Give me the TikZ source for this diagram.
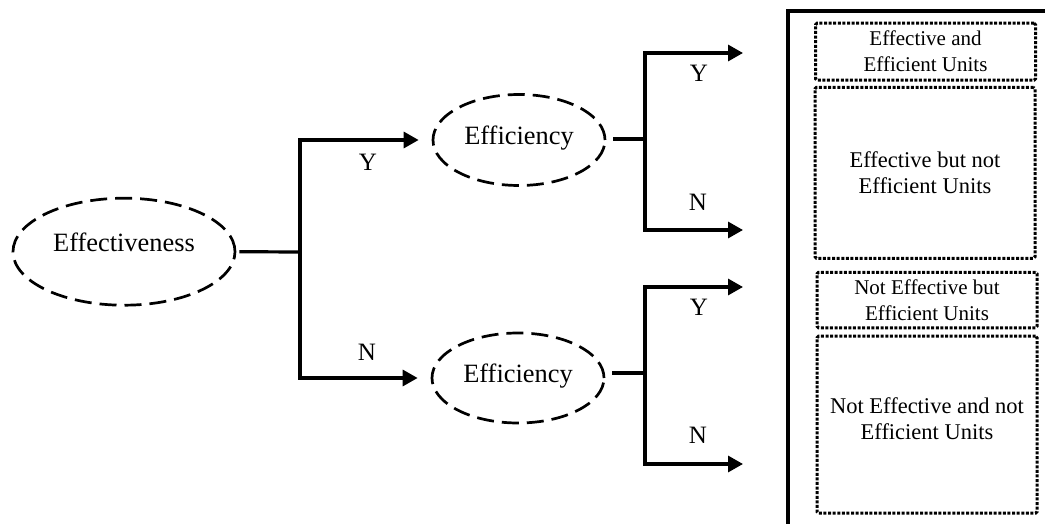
\documentclass[tikz,border=0pt]{standalone}
\usepackage{fontspec}
\setmainfont{Liberation Serif}
\usetikzlibrary{shapes.geometric, arrows.meta}

\begin{document}
\begin{tikzpicture}[x=1pt, y=-1pt,
    oval/.style={draw, ellipse, line width=2.7pt, dash pattern=on 17pt off 8pt, font=\fontsize{26.4}{30}\selectfont},
    branch/.style={line width=3.2pt},
    branchto/.style={line width=3.2pt, -{Triangle[length=15pt, width=16pt]}},
    yn/.style={font=\fontsize{25}{30}\selectfont},
    unitbox/.style={draw, rectangle, rounded corners=1.5pt, line width=3pt, dash pattern=on 3pt off 1.6pt, minimum width=220pt, align=center}]

    \useasboundingbox (0,0) rectangle (1045,524);
    \clip (0,0) rectangle (1045,524);

    % Effectiveness
    \node[oval, minimum width=222pt, minimum height=107pt, text height=18pt, text depth=18pt] (effect) at (124,251.7) {Effectiveness};
    \coordinate (fork) at (300,252);
    \draw[branch, shorten <=3pt] (effect.east) -- (fork);

    % Efficiency
    \node[oval, minimum width=172pt, minimum height=91pt, text height=18pt, text depth=9pt] (effic1) at (519,140) {Efficiency};
    \node[oval, minimum width=172pt, minimum height=90pt, text height=18pt, text depth=9pt] (effic2) at (518,378) {Efficiency};
    \draw[branchto, shorten >=13pt] (fork) |- (effic1.west);
    \draw[branchto, shorten >=13pt] (fork) |- (effic2.west);
    \node[yn] (y0) at (368,162) {Y};
    \node[yn] (n0) at (367,352) {N};

    % Upper branch
    \coordinate (fork1) at (645,139);
    \coordinate (end-yy) at (743,53);
    \coordinate (end-yn) at (743,230);
    \draw[branch, shorten <=7pt] (effic1.east |- fork1) -- (fork1);
    \draw[branchto] (fork1) |- (end-yy);
    \draw[branchto] (fork1) |- (end-yn);
    \node[yn] (y1) at (699,73) {Y};
    \node[yn] (n1) at (698,202) {N};

    % Lower branch
    \coordinate (fork2) at (645,373);
    \coordinate (end-ny) at (743,287);
    \coordinate (end-nn) at (743,464);
    \draw[branch, shorten <=7pt] (effic2.east |- fork2) -- (fork2);
    \draw[branchto] (fork2) |- (end-ny);
    \draw[branchto] (fork2) |- (end-nn);
    \node[yn] (y2) at (699,307) {Y};
    \node[yn] (n2) at (698,435) {N};

    % Units
    \draw[line width=3.2pt] (788,11) rectangle (1060,540);
    \node[unitbox, minimum height=57pt, font=\fontsize{21}{26}\selectfont] (u-yy) at (925.5,51.7) {Effective and\\Efficient Units};
    \node[unitbox, minimum height=171pt, font=\fontsize{22.5}{26}\selectfont] (u-yn) at (925,172.8) {Effective but not\\Efficient Units};
    \node[unitbox, minimum height=55.5pt, font=\fontsize{21}{26}\selectfont] (u-ny) at (927,300) {Not Effective but\\Efficient Units};
    \node[unitbox, minimum height=177pt, font=\fontsize{22.5}{26}\selectfont, text depth=12pt] (u-nn) at (927,424.7) {Not Effective and not\\Efficient Units};

\end{tikzpicture}
\end{document}
